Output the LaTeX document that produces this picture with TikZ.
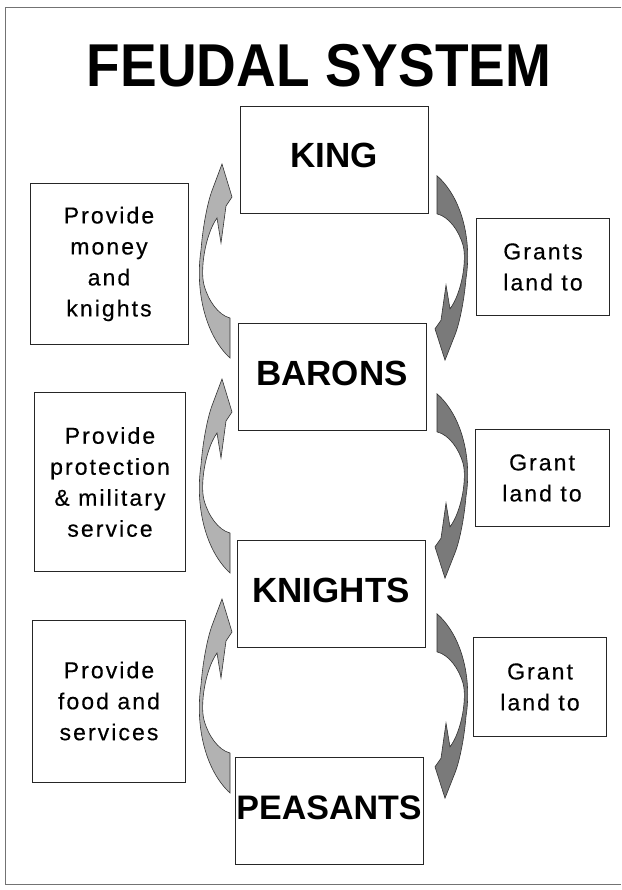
\documentclass[tikz,border=0pt]{standalone}
\usepackage{fontspec}
\setmainfont{Liberation Sans}
\newfontfamily\notefont[LetterSpace=9, FakeBold=0.4]{Liberation Sans}
\usepackage{xcolor}

\tikzset{
  rank/.style={draw=black!85, line width=1pt, minimum width=188pt, minimum height=107pt,
    inner sep=0pt, text height=25pt, text depth=9pt,
    font=\bfseries\fontsize{35}{40}\selectfont},
  note/.style={draw=black!85, line width=0.8pt, align=center, inner sep=0pt,
    font=\notefont\fontsize{23}{31}\selectfont},
  upfill/.style={fill=black!30, draw=black!80, line width=0.6pt},
  downfill/.style={fill=black!52, draw=black!80, line width=0.6pt},
  pics/liftarrow/.style={code={
    \filldraw[#1] (14,97) .. controls (-11,74) and (-21,29) .. (-15,-11)
      .. controls (-13,-36) and (-8,-61) .. (-3,-73) -- (6,-97) -- (16,-64)
      -- (10,-55) -- (5,-18) -- (1,-43)
      .. controls (-11,-26) and (-16,9) .. (-12,24)
      .. controls (-8,39) and (2,54) .. (14,57) -- cycle;
  }}
}

\begin{document}
\begin{tikzpicture}[x=1pt, y=-1pt]

      \useasboundingbox (0,0) rectangle (621,890);

      % Frame
      \draw[black!55, line width=1pt] (621,8) -- (5,8) -- (5,884) -- (621,884);

      % Title
      \node (title) at (319,66) {\fontsize{55}{60}\selectfont\bfseries\scalebox{1}[1.1]{FEUDAL SYSTEM}};

      % Ranks
      \node[rank] (king) at (334,160) {KING};
      \node[rank] (barons) at (332,377) {BARONS};
      \node[rank] (knights) at (331,594) {KNIGHTS};
      \node[rank, font=\bfseries\fontsize{34}{40}\selectfont] (peasants) at (329,811) {PEASANTS};

      % Duties (left)
      \node[note, minimum width=158pt, minimum height=161pt] (money) at (109,264) {Provide\\money\\and\\knights};
      \node[note, minimum width=151pt, minimum height=179pt] (protection) at (110,482) {Provide\\protection\\\& military\\service};
      \node[note, minimum width=153pt, minimum height=162pt] (food) at (109,701) {Provide\\food and\\services};

      % Grants (right)
      \node[note, minimum width=133pt, minimum height=97pt] (grantsA) at (543,267) {Grants\\land to};
      \node[note, minimum width=134pt, minimum height=97pt] (grantB) at (542,478) {Grant\\land to};
      \node[note, minimum width=133pt, minimum height=99pt] (grantC) at (540,687) {Grant\\land to};

      % Curved arrows
      \foreach \y in {261,476,696}
      {
        \pic at (216,\y) {liftarrow=upfill};
      }
      \foreach \y in {268,486,706}
      {
        \pic[xscale=-1, yscale=-0.95] at (451,\y) {liftarrow=downfill};
      }

\end{tikzpicture}
\end{document}
